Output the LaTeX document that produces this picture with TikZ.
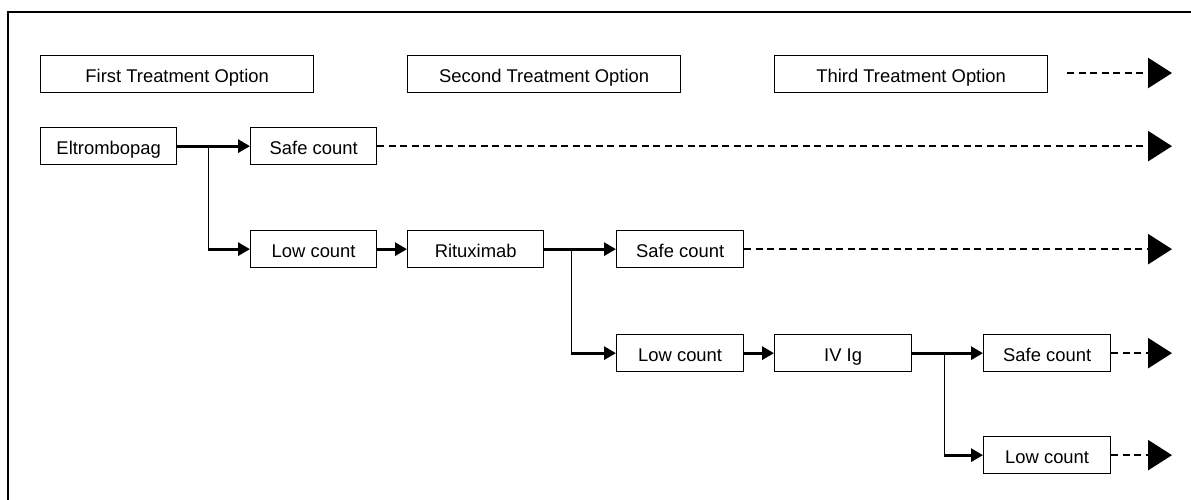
\documentclass[tikz,border=0pt]{standalone}
\usepackage{fontspec}
\setmainfont{Liberation Sans}
\usetikzlibrary{arrows.meta, calc}

\tikzset{
  box/.style={draw, line width=1.3pt, minimum height=37pt, inner sep=0pt,
    text height=16pt, text depth=0pt, anchor=north west,
    font=\fontsize{18.4}{22}\selectfont},
  flow/.style={line width=3pt, -{Triangle[length=12pt, width=13pt]}},
  branch/.style={line width=1.5pt},
  nextline/.style={line width=2.6pt, dash pattern=on 7pt off 4.5pt,
    -{Triangle[length=24pt, width=30pt]}}
}

\begin{document}
\begin{tikzpicture}[x=1pt, y=-1pt]
    \useasboundingbox (0,0) rectangle (1191,500);
    % frame
    \draw[line width=1.6pt] (8,500) -- (8,12) -- (1191,12);

    % Treatment options
    \node[box, minimum width=273pt] (hd1) at (40,55) {First Treatment Option};
    \node[box, minimum width=273pt] (hd2) at (407,55) {Second Treatment Option};
    \node[box, minimum width=273pt] (hd3) at (774,55) {Third Treatment Option};
    \coordinate (hd-start) at (1067,73);
    \coordinate (hd-end) at (1172,73);
    \draw[nextline] (hd-start) -- (hd-end);

    % First option
    \node[box, minimum width=136pt] (elt) at (40,127) {Eltrombopag};
    \node[box, minimum width=126pt] (safe1) at (250,127) {Safe count};
    \node[box, minimum width=126pt] (low1) at (250,230) {Low count};
    \coordinate (j1) at ($(elt.east)+(31,0)$);
    \draw[flow] (elt) -- (safe1);
    \draw[branch] (j1) -- (j1 |- low1.west);
    \draw[flow] (j1 |- low1.west) -- (low1);

    % Second option
    \node[box, minimum width=136pt] (rit) at (407,230) {Rituximab};
    \node[box, minimum width=127pt] (safe2) at (616,230) {Safe count};
    \node[box, minimum width=127pt] (low2) at (616,334) {Low count};
    \coordinate (j2) at ($(rit.east)+(27,0)$);
    \draw[flow] (low1) -- (rit);
    \draw[flow] (rit) -- (safe2);
    \draw[branch] (j2) -- (j2 |- low2.west);
    \draw[flow] (j2 |- low2.west) -- (low2);

    % Third option
    \node[box, minimum width=137pt] (ivig) at (774,334) {IV Ig};
    \node[box, minimum width=127pt] (safe3) at (983,334) {Safe count};
    \node[box, minimum width=127pt] (low3) at (983,436) {Low count};
    \coordinate (j3) at ($(ivig.east)+(32,0)$);
    \draw[flow] (low2) -- (ivig);
    \draw[flow] (ivig) -- (safe3);
    \draw[branch] (j3) -- (j3 |- low3.west);
    \draw[flow] (j3 |- low3.west) -- (low3);

    % onward
    \foreach \n in {safe1, safe2, safe3, low3} {
      \coordinate (\n-end) at (\n.east -| 1172,0);
      \draw[nextline] (\n.east) -- (\n-end);
    }
\end{tikzpicture}
\end{document}
